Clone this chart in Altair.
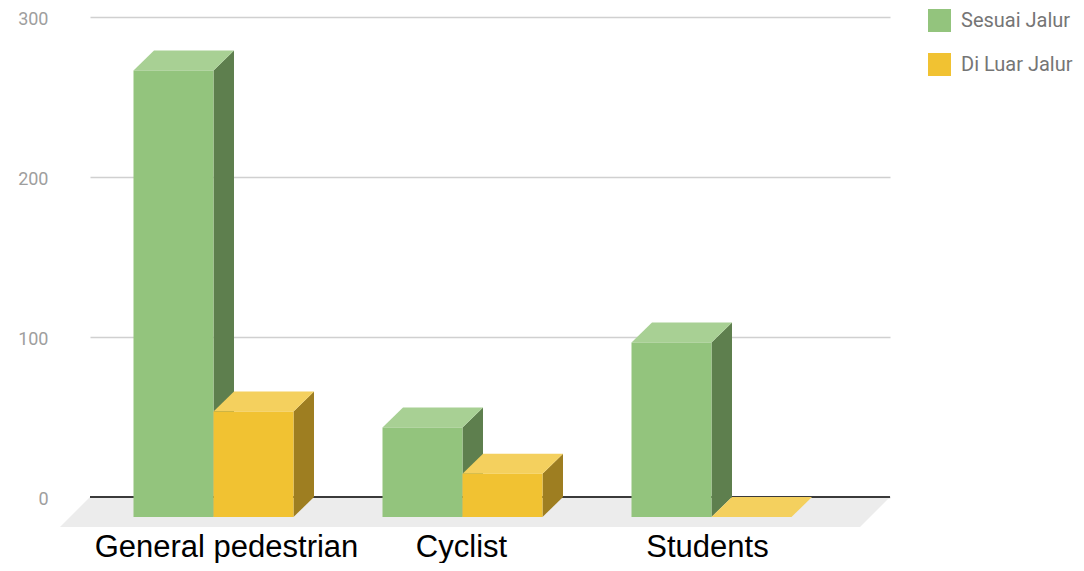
import altair as alt
import pandas as pd

# ---- data ----
CATEGORIES = ["General pedestrian", "Cyclist", "Students"]
SERIES = ["Sesuai Jalur", "Di Luar Jalur"]
SESUAI_JALUR = [279, 56, 109]
DI_LUAR_JALUR = [66, 27, 0]
Y_TICKS = [0, 100, 200, 300]

# ---- style / layout constants ----
FRONT = {"Sesuai Jalur": "#93c47d", "Di Luar Jalur": "#f1c232"}
TOP = {"Sesuai Jalur": "#a8d094", "Di Luar Jalur": "#f4d05e"}
SIDE = {"Sesuai Jalur": "#5e7f4e", "Di Luar Jalur": "#9e7e21"}
GROUP_START = 43.5      # x units (= px) of first bar front-left edge
GROUP_STEP = 249.0
BAR_W = 80.0
DEPTH_X = 20.5          # px of depth to the right
DEPTH_Y = 12.5          # value units of depth upwards (20 px)
FLOOR_X = 30.0
FLOOR_Y = 18.75
LABEL_Y = -37.5
LABEL_NUDGE = [13, -1, -4]
PLOT_W, PLOT_H = 800, 480

values = {"Sesuai Jalur": SESUAI_JALUR, "Di Luar Jalur": DI_LUAR_JALUR}

fronts, sides, tops = [], [], []
for ci, cat in enumerate(CATEGORIES):
    for si, s in enumerate(SERIES):
        v = values[s][ci]
        x0 = GROUP_START + ci * GROUP_STEP + si * BAR_W
        fid = f"{ci}-{si}"
        fronts.append({"series": s, "cat": cat, "x": x0, "x2": x0 + BAR_W,
                       "y": v - DEPTH_Y, "y2": -DEPTH_Y, "value": v})
        sides += [
            {"id": fid, "x": x0 + BAR_W, "top": v - DEPTH_Y, "bot": -DEPTH_Y, "c": SIDE[s]},
            {"id": fid, "x": x0 + BAR_W + DEPTH_X, "top": v, "bot": 0, "c": SIDE[s]},
        ]
        tops += [
            {"id": fid, "x": x0, "top": v - DEPTH_Y, "bot": v - DEPTH_Y, "c": TOP[s]},
            {"id": fid, "x": x0 + DEPTH_X, "top": v, "bot": v - DEPTH_Y, "c": TOP[s]},
            {"id": fid, "x": x0 + BAR_W, "top": v, "bot": v - DEPTH_Y, "c": TOP[s]},
            {"id": fid, "x": x0 + BAR_W + DEPTH_X, "top": v, "bot": v, "c": TOP[s]},
        ]

floor = pd.DataFrame([
    {"x": -FLOOR_X, "top": -FLOOR_Y, "bot": -FLOOR_Y},
    {"x": 0, "top": 0, "bot": -FLOOR_Y},
    {"x": PLOT_W - FLOOR_X, "top": 0, "bot": -FLOOR_Y},
    {"x": PLOT_W, "top": 0, "bot": 0},
])

labels = pd.DataFrame({
    "cat": CATEGORIES,
    "x": [GROUP_START + i * GROUP_STEP + BAR_W + LABEL_NUDGE[i] for i in range(len(CATEGORIES))],
    "y": [LABEL_Y] * len(CATEGORIES),
})

xscale = alt.Scale(domain=[0, PLOT_W], nice=False, zero=False)
yscale = alt.Scale(domain=[0, 300], nice=False, zero=False)

X = lambda f="x": alt.X(f"{f}:Q", scale=xscale, axis=None)

floor_layer = alt.Chart(floor).mark_area(color="#ececec", orient="vertical").encode(
    x=X(),
    y=alt.Y("top:Q", scale=yscale,
            axis=alt.Axis(values=Y_TICKS, title=None, domain=False, ticks=False, tickSize=0,
                          labelPadding=42, labelOffset=2, labelFont="Roboto", labelFontSize=18,
                          labelColor="#9e9e9e", grid=True, gridColor="#d0d0d0", gridWidth=1.5)),
    y2="bot:Q",
)

zero_line = alt.Chart(pd.DataFrame({"x": [0], "x2": [PLOT_W], "y": [0]})).mark_rule(
    color="#3a3a3a", strokeWidth=2
).encode(x=X(), x2="x2:Q", y=alt.Y("y:Q", scale=yscale))

side_layer = alt.Chart(pd.DataFrame(sides)).mark_area(orient="vertical").encode(
    x=X(), y=alt.Y("top:Q", scale=yscale), y2="bot:Q",
    detail="id:N", color=alt.Color("c:N", scale=None),
)

top_layer = alt.Chart(pd.DataFrame(tops)).mark_area(orient="vertical").encode(
    x=X(), y=alt.Y("top:Q", scale=yscale), y2="bot:Q",
    detail="id:N", color=alt.Color("c:N", scale=None),
)

front_layer = alt.Chart(pd.DataFrame(fronts)).mark_rect().encode(
    x=X(), x2="x2:Q",
    y=alt.Y("y:Q", scale=yscale), y2="y2:Q",
    color=alt.Color("series:N",
                    scale=alt.Scale(domain=SERIES, range=[FRONT[s] for s in SERIES]),
                    legend=alt.Legend(title=None, orient="none", legendX=838, legendY=-8,
                                      symbolType="square", symbolSize=529, symbolStrokeWidth=0,
                                      symbolOpacity=1,
                                      labelFont="Roboto", labelFontSize=20, labelColor="#757575",
                                      labelOffset=10, rowPadding=21, padding=0)),
)

label_layer = alt.Chart(labels).mark_text(
    font="Liberation Sans", fontSize=31, color="#000000", align="center", baseline="alphabetic"
).encode(x=X(), y=alt.Y("y:Q", scale=yscale), text="cat:N")

chart = alt.layer(
    floor_layer, zero_line, side_layer, top_layer, front_layer, label_layer
).properties(
    width=PLOT_W, height=PLOT_H,
    autosize=alt.AutoSizeParams(type="none"),
    padding={"left": 82, "top": 9, "right": 186, "bottom": 66},
    background="white",
).configure_view(stroke=None)

chart.save("out.html", embed_options={"renderer": "svg", "actions": False})
